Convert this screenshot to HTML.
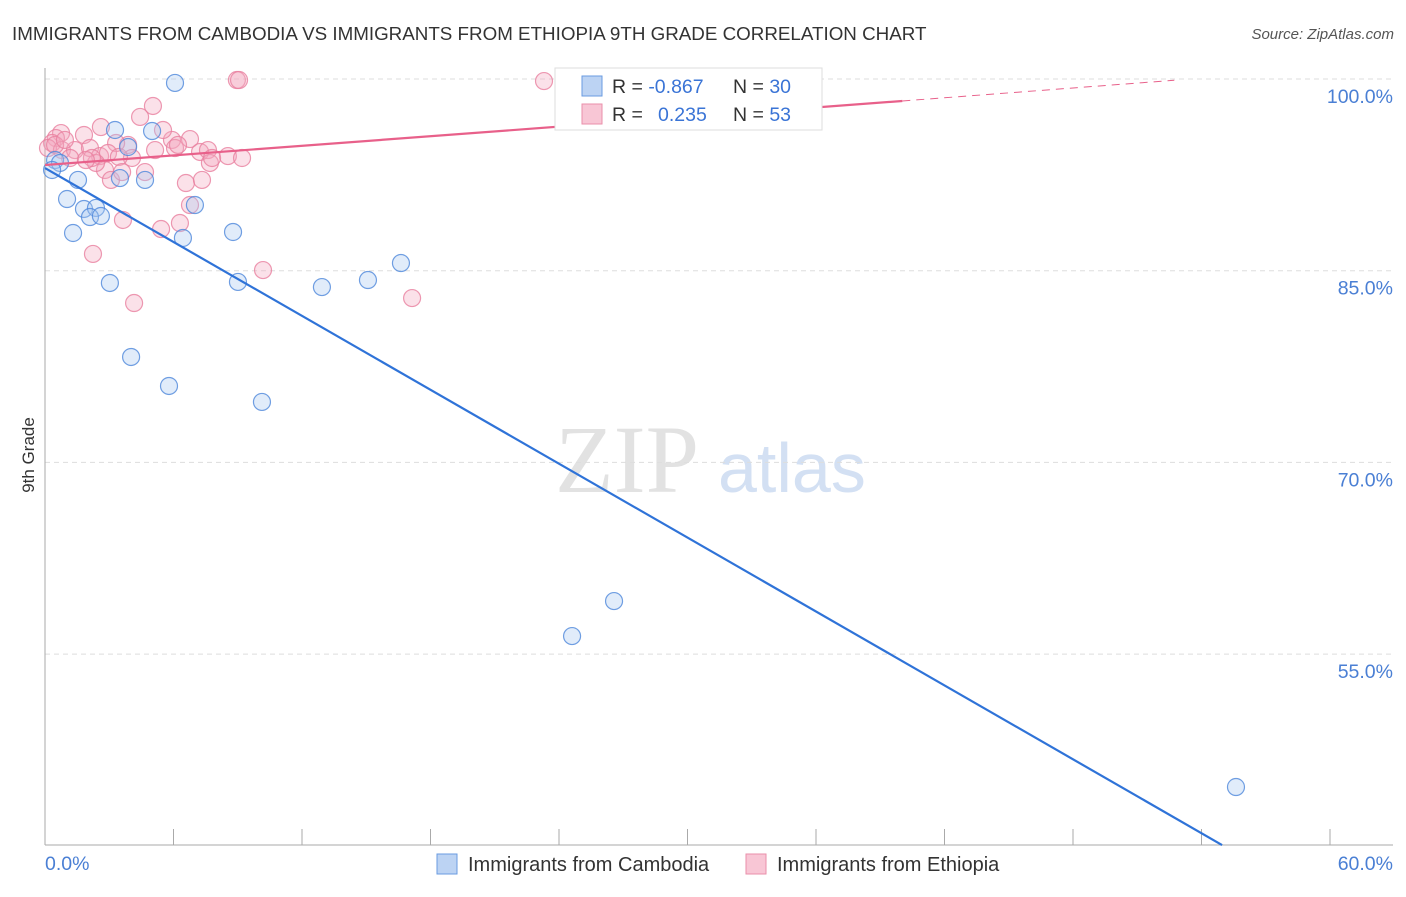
<!DOCTYPE html>
<html><head><meta charset="utf-8"><style>
body{margin:0;background:#fff;font-family:"Liberation Sans",sans-serif}
svg text{font-family:"Liberation Sans",sans-serif}
</style></head><body>
<svg id="c" width="1406" height="892">
<text x="12" y="40" font-size="18.8" fill="#333">IMMIGRANTS FROM CAMBODIA VS IMMIGRANTS FROM ETHIOPIA 9TH GRADE CORRELATION CHART</text>
<text x="1394" y="39" font-size="15" fill="#555" font-style="italic" text-anchor="end">Source: ZipAtlas.com</text>
<text x="555" y="492" font-size="96" fill="#e2e2e2" style="font-family:'Liberation Serif',serif">ZIP</text>
<text x="718" y="492" font-size="70" fill="#d3e0f3">atlas</text>
<g id="grid"></g><g id="marks"></g>
<text transform="translate(34,455) rotate(-90)" font-size="17" fill="#333" text-anchor="middle">9th Grade</text>
<g>
<rect x="555" y="68" width="267" height="62" fill="#fff" stroke="#ddd"/>
<rect x="582" y="76" width="20" height="20" fill="#bcd3f3" stroke="#6a9be0"/>
<rect x="582" y="104" width="20" height="20" fill="#f8c6d5" stroke="#ea8faa"/>
<text x="612" y="93" font-size="19.5" fill="#333">R = <tspan fill="#3a74d6">-0.867</tspan><tspan x="733">N = </tspan><tspan fill="#3a74d6">30</tspan></text>
<text x="612" y="121" font-size="19.5" fill="#333">R = <tspan x="658" fill="#3a74d6">0.235</tspan><tspan x="733">N = </tspan><tspan fill="#3a74d6">53</tspan></text>
</g>
<g>
<rect x="437" y="854" width="20" height="20" fill="#bcd3f3" stroke="#6a9be0"/>
<text x="468" y="871" font-size="20" fill="#333">Immigrants from Cambodia</text>
<rect x="746" y="854" width="20" height="20" fill="#f8c6d5" stroke="#ea8faa"/>
<text x="777" y="871" font-size="20" fill="#333">Immigrants from Ethiopia</text>
</g>
</svg>
<script>
const cambodiaX=[6.07,3.27,5.00,3.88,0.47,0.70,0.33,1.54,3.50,4.67,1.03,1.82,2.38,2.10,2.61,7.00,1.31,6.44,8.78,3.03,9.01,12.93,15.08,16.62,4.02,5.79,10.13,26.57,24.61,55.61];
const cambodiaY=[99.69,96.01,95.93,94.68,93.66,93.43,92.88,92.10,92.25,92.10,90.61,89.83,89.91,89.20,89.28,90.14,87.95,87.56,88.03,84.04,84.12,83.72,84.27,85.60,78.25,75.98,74.73,59.15,56.41,44.60];
const ethiopiaX=[8.96,9.06,23.30,34.32,5.04,4.44,2.61,1.82,0.75,0.51,0.33,0.14,5.93,6.77,5.51,6.07,3.88,3.32,0.79,1.40,2.10,2.57,2.94,4.06,3.45,7.24,7.61,8.54,9.20,7.70,4.67,2.80,3.08,2.38,6.58,7.33,6.77,6.30,5.42,3.64,3.60,2.24,4.16,10.18,17.14,5.14,2.19,7.80,1.17,1.91,6.21,0.47,0.93];
const ethiopiaY=[99.92,99.92,99.84,99.84,97.89,97.03,96.24,95.62,95.77,95.38,94.99,94.60,95.23,95.30,96.01,94.60,94.84,94.99,94.44,94.44,94.60,93.97,94.21,93.82,93.90,94.29,94.44,93.97,93.82,93.43,92.72,92.88,92.10,93.43,91.86,92.10,90.14,88.73,88.26,88.97,92.72,86.31,82.47,85.05,82.86,94.44,93.82,93.82,93.82,93.66,94.84,94.84,95.23];
const yTicks=[100,85,70,55];
const yTickLabels=["100.0%","85.0%","70.0%","55.0%"];
const xTicks=[0,6,12,18,24,30,36,42,48,54,60];
const xEndLabels=["0.0%","60.0%"];
const cambodiaTrend=[[0,93.03],[54.96,40.06]];
const ethiopiaTrend=[[0,93.27],[40.03,98.28]];
const ethiopiaDash=[[40.03,98.28],[52.73,99.9]];
const NS="http://www.w3.org/2000/svg";
const sx=v=>45+v*128.5/6, sy=v=>79+(100-v)*191.7/15;
function mk(t,a,p){const e=document.createElementNS(NS,t);for(const k in a)e.setAttribute(k,a[k]);p.appendChild(e);return e;}
const g=document.getElementById('grid'),m=document.getElementById('marks');
yTicks.forEach((v,i)=>{
 const l=mk('line',{x1:45,x2:1393,y1:sy(v),y2:sy(v),stroke:'#ddd','stroke-dasharray':'5,4'},g);
 
 
 const t=mk('text',{x:1393,y:sy(v)+24,'font-size':19.5,fill:'#4a7fd4','text-anchor':'end'},g);
 t.textContent=yTickLabels[i];
 
 
});
const ax=mk('line',{x1:45,x2:45,y1:68,y2:845,stroke:'#aaa'},g);


const bx=mk('line',{x1:45,x2:1393,y1:845,y2:845,stroke:'#aaa'},g);


xTicks.forEach(v=>{const l=mk('line',{x1:sx(v),x2:sx(v),y1:829,y2:845,stroke:'#aaa'},g);
 
 });
[[0,'start',45],[60,'end',1393]].forEach((d,i)=>{const t=mk('text',{x:d[2],y:870,'font-size':19.5,fill:'#4a7fd4','text-anchor':d[1]},g);t.textContent=xEndLabels[i];
 
 });
function pts(X,Y,fill,stroke,name){X.forEach((x,i)=>{const c=mk('circle',{cx:sx(x),cy:sy(Y[i]),r:8.5,fill:fill,'fill-opacity':0.35,stroke:stroke,'stroke-opacity':0.8,'stroke-width':1.2},m);
 
 });}
pts(ethiopiaX,ethiopiaY,'#f4a9c0','#e97f9f','ethiopia-point');
pts(cambodiaX,cambodiaY,'#a9c8f0','#4d87db','cambodia-point');
function ln(p,col,name,dash){const l=mk('line',{x1:sx(p[0][0]),y1:sy(p[0][1]),x2:sx(p[1][0]),y2:sy(p[1][1]),stroke:col,'stroke-width':dash?1:2.2},m);if(dash)l.setAttribute('stroke-dasharray','8,6');
 
 }
ln(cambodiaTrend,'#2f73d8','cambodia-trendline');
ln(ethiopiaTrend,'#e8608a','ethiopia-trendline');
ln(ethiopiaDash,'#e8608a','ethiopia-trendline-extension',true);
</script>
</body></html>
